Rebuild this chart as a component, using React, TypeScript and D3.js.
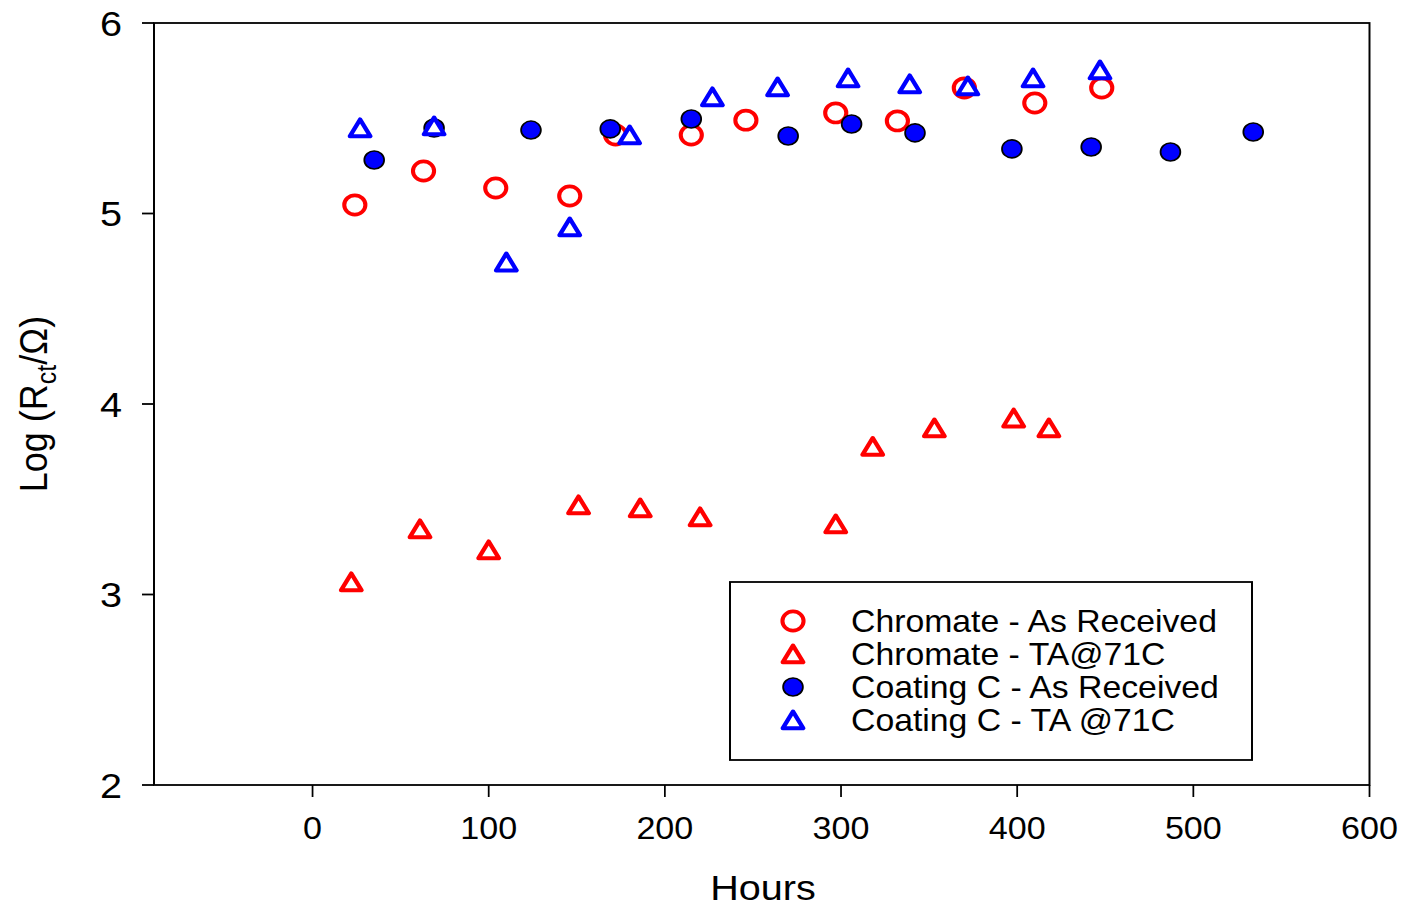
import React from 'react';
import * as d3 from 'd3';

// values (hours, log Rct)
const chromateArHours = [24, 63, 104, 146, 172, 215, 246, 297, 332, 370, 410, 448];
const chromateArLog = [5.045, 5.223, 5.134, 5.092, 5.412, 5.412, 5.49, 5.528, 5.486, 5.659, 5.58, 5.659];

const chromateTaHours = [22, 61, 100, 151, 186, 220, 297, 318, 353, 398, 418];
const chromateTaLog = [3.066, 3.344, 3.234, 3.47, 3.454, 3.407, 3.37, 3.777, 3.874, 3.926, 3.874];

const coatingArHours = [35, 69, 124, 169, 215, 270, 306, 342, 397, 442, 487, 534];
const coatingArLog = [5.281, 5.449, 5.438, 5.444, 5.496, 5.407, 5.47, 5.423, 5.339, 5.349, 5.323, 5.428];

const coatingTaHours = [27, 69, 110, 146, 180, 227, 264, 304, 339, 372, 409, 447];
const coatingTaLog = [5.449, 5.459, 4.745, 4.929, 5.412, 5.612, 5.664, 5.711, 5.68, 5.669, 5.711, 5.753];

const xTicks = [0, 100, 200, 300, 400, 500, 600];
const yTicks = [2, 3, 4, 5, 6];

const seriesNames = [
  'Chromate - As Received',
  'Chromate - TA@71C',
  'Coating C - As Received',
  'Coating C - TA @71C',
];

const W = 1402;
const H = 907;
const SX = 1.1; // the original figure is stretched sideways
const VW = W / SX;
const FONT = 'Arial, "Liberation Sans", Helvetica, sans-serif';

const x = d3.scaleLinear().domain([-90, 600]).range([154 / SX, 1369.5 / SX]);
const y = d3.scaleLinear().domain([2, 6]).range([785, 23]);

const zip = (xs: number[], ys: number[]) => xs.map((v, i) => [v, ys[i]] as [number, number]);

const tri = 'M0,-8.5L9.3,8.3L-9.3,8.3Z';

type Kind = 'ring' | 'triRed' | 'dot' | 'triBlue';

const Marker = ({ kind, cx, cy }: { kind: Kind; cx: number; cy: number }) => {
  if (kind === 'ring')
    return <circle cx={cx} cy={cy} r={9.6} fill="white" stroke="#ff0000" strokeWidth={3.7} />;
  if (kind === 'dot')
    return <circle cx={cx} cy={cy} r={9} fill="#0000ff" stroke="black" strokeWidth={1.6} />;
  return (
    <path
      d={tri}
      transform={`translate(${cx},${cy})`}
      fill="white"
      stroke={kind === 'triRed' ? '#ff0000' : '#0000ff'}
      strokeWidth={4}
      strokeLinejoin="round"
    />
  );
};

const series: { kind: Kind; pts: [number, number][] }[] = [
  { kind: 'ring', pts: zip(chromateArHours, chromateArLog) },
  { kind: 'triRed', pts: zip(chromateTaHours, chromateTaLog) },
  { kind: 'dot', pts: zip(coatingArHours, coatingArLog) },
  { kind: 'triBlue', pts: zip(coatingTaHours, coatingTaLog) },
];

export default function App() {
  const [x0, x1] = x.range();
  const [yb, yt] = y.range();
  const tick = 12 / SX;

  return (
    <svg
      width={W}
      height={H}
      viewBox={`0 0 ${VW} ${H}`}
      preserveAspectRatio="none"
      style={{ position: 'absolute', left: 0, top: 0, background: 'white' }}
      fontFamily={FONT}
    >
      {/* frame */}
      <rect x={x0} y={yt} width={x1 - x0} height={yb - yt} fill="none" stroke="black" strokeWidth={1.8} />

      {/* y axis */}
      {yTicks.map(t => (
        <g key={'y' + t}>
          <line x1={x0 - tick} x2={x0} y1={y(t)} y2={y(t)} stroke="black" strokeWidth={1.8} />
          <text x={122 / SX} y={y(t)} dy="0.36em" textAnchor="end" fontSize={36}>
            {t}
          </text>
        </g>
      ))}

      {/* x axis */}
      {xTicks.map(t => (
        <g key={'x' + t}>
          <line x1={x(t)} x2={x(t)} y1={yb} y2={yb + 12} stroke="black" strokeWidth={1.6} />
          <text x={x(t)} y={839} textAnchor="middle" fontSize={31}>
            {t}
          </text>
        </g>
      ))}

      <text x={763 / SX} y={900} textAnchor="middle" fontSize={36}>
        Hours
      </text>

      <text transform={`translate(${47 / SX},${(yt + yb) / 2}) rotate(-90)`} textAnchor="middle" fontSize={36}>
        Log (R<tspan fontSize={25} dy={8}>ct</tspan>
        <tspan dy={-8}>/Ω)</tspan>
      </text>

      {/* points */}
      {series.map(s =>
        s.pts.map(([h, v], i) => <Marker key={s.kind + i} kind={s.kind} cx={x(h)} cy={y(v)} />)
      )}

      {/* legend */}
      <rect
        x={730 / SX}
        y={582}
        width={(1252 - 730) / SX}
        height={760 - 582}
        fill="white"
        stroke="black"
        strokeWidth={1.8}
      />
      {seriesNames.map((name, i) => {
        const cy = 621 + i * 33;
        return (
          <g key={name}>
            <Marker kind={series[i].kind} cx={793 / SX} cy={cy} />
            <text x={851 / SX} y={cy + 11} fontSize={30.7}>
              {name}
            </text>
          </g>
        );
      })}
    </svg>
  );
}
